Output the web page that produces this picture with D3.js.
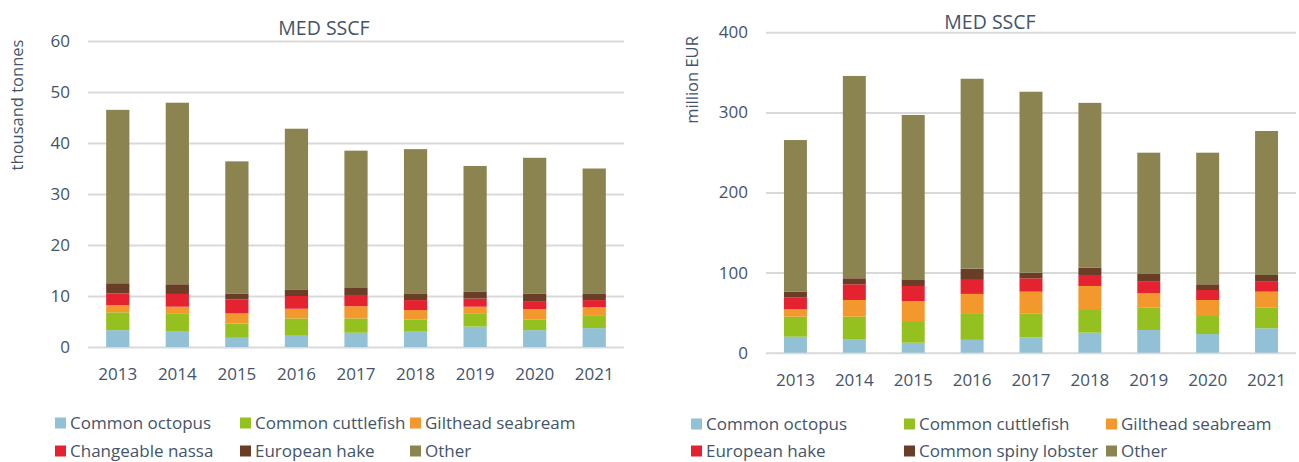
<!DOCTYPE html>
<html>
<head>
<meta charset="utf-8">
<script src="https://cdn.jsdelivr.net/npm/d3@7"></script>
<style>
  html, body { margin: 0; padding: 0; background: #ffffff; }
  svg { display: block; font-family: "Open Sans", sans-serif; }
</style>
</head>
<body>
<svg id="chart" width="1299" height="462"></svg>
<script>
// ---------- DATA ----------
const years = ["2013", "2014", "2015", "2016", "2017", "2018", "2019", "2020", "2021"];

// Left chart: landings weight (thousand tonnes)
const volSeriesNames = ["Common octopus", "Common cuttlefish", "Gilthead seabream", "Changeable nassa", "European hake", "Other"];
const volOctopus    = [3.3, 3.0, 1.8, 2.35, 2.8, 3.0, 4.0, 3.3, 3.7];
const volCuttlefish = [3.5, 3.5, 2.8, 3.25, 2.8, 2.4, 2.5, 2.1, 2.4];
const volSeabream   = [1.4, 1.4, 2.0, 1.9, 2.4, 1.85, 1.4, 2.05, 1.7];
const volNassa      = [2.3, 2.5, 2.75, 2.5, 2.2, 1.95, 1.6, 1.55, 1.4];
const volHake       = [2.0, 1.9, 1.15, 1.3, 1.5, 1.2, 1.3, 1.5, 1.2];
const volOther      = [34.0, 35.6, 25.9, 31.5, 26.8, 28.4, 24.7, 26.6, 24.6];
const volTicks      = [0, 10, 20, 30, 40, 50, 60];

// Right chart: landings value (million EUR)
const valSeriesNames = ["Common octopus", "Common cuttlefish", "Gilthead seabream", "European hake", "Common spiny lobster", "Other"];
const valOctopus    = [20, 17, 12.5, 16, 19.2, 25, 28.3, 23.3, 30.5];
const valCuttlefish = [25, 28, 27, 32.4, 30, 28.3, 28.4, 22.5, 26.2];
const valSeabream   = [9.2, 20.8, 25, 25, 27, 30, 17.5, 20, 19.5];
const valHake       = [14.5, 19.6, 18.8, 17.5, 16.7, 13.7, 14.4, 12.5, 12.4];
const valLobster    = [7.3, 7.5, 8.3, 14, 7, 9, 9.7, 7.1, 8.4];
const valOther      = [189.5, 252.6, 205.2, 237.1, 225.9, 205.9, 151.4, 164.3, 179.8];
const valTicks      = [0, 100, 200, 300, 400];

const seriesColors = ["#92c1d5", "#94c11f", "#f2982c", "#e5222f", "#6a3d26", "#8c8450"];

// ---------- DRAW ----------
const svg = d3.select("#chart");
const textColor = "#44546a";
const gridColor = "#d9d9d9";

function drawPanel(cfg) {
  const rows = cfg.years.map((yr, i) => {
    const o = { year: yr };
    cfg.names.forEach((n, k) => { o[n] = cfg.values[k][i]; });
    return o;
  });
  const stack = d3.stack().keys(cfg.names)(rows);

  const x = d3.scaleBand().domain(cfg.years).range([cfg.x0, cfg.x1])
    .paddingInner(0.61).paddingOuter(0.305);
  const y = d3.scaleLinear().domain([0, cfg.max]).range([cfg.y0, cfg.y1]);

  const g = svg.append("g");

  // gridlines + y tick labels
  const yAxis = g.append("g").attr("transform", `translate(${cfg.x0},0)`)
    .call(d3.axisLeft(y).tickValues(cfg.ticks).tickSize(-(cfg.x1 - cfg.x0)).tickPadding(18));
  yAxis.select(".domain").remove();
  yAxis.selectAll(".tick line").attr("stroke", gridColor).attr("stroke-width", 2);
  yAxis.selectAll(".tick text").attr("fill", textColor).attr("font-size", 17)
    .attr("font-family", "Open Sans");

  // bars
  g.append("g").selectAll("g").data(stack).join("g")
    .attr("fill", (d, i) => seriesColors[i])
    .selectAll("rect").data(d => d).join("rect")
    .attr("x", d => x(d.data.year))
    .attr("width", x.bandwidth())
    .attr("y", d => y(d[1]))
    .attr("height", d => y(d[0]) - y(d[1]));

  // x axis labels
  const xAxis = g.append("g").attr("transform", `translate(0,${cfg.y0})`)
    .call(d3.axisBottom(x).tickSize(0).tickPadding(0));
  xAxis.select(".domain").remove();
  xAxis.selectAll(".tick text").attr("fill", textColor).attr("font-size", 17)
    .attr("font-family", "Open Sans").attr("dy", 0).attr("y", cfg.xLabelBaseline - cfg.y0);

  // title
  g.append("text").attr("x", cfg.titleX).attr("y", cfg.titleY)
    .attr("text-anchor", "middle").attr("fill", textColor)
    .attr("font-size", 19.5).text(cfg.title);

  // y axis title
  g.append("text")
    .attr("transform", `translate(${cfg.yTitleX},${cfg.yTitleY}) rotate(-90)`)
    .attr("text-anchor", "middle").attr("fill", textColor)
    .attr("font-size", 16.5).text(cfg.yTitle);

  // legend
  const leg = g.append("g");
  cfg.names.forEach((n, k) => {
    const col = k % 3, row = Math.floor(k / 3);
    const lx = cfg.legendCols[col], ly = cfg.legendRows[row];
    leg.append("rect").attr("x", lx).attr("y", ly - 5.5).attr("width", 11).attr("height", 11)
      .attr("fill", seriesColors[k]);
    leg.append("text").attr("x", lx + 15).attr("y", ly).attr("dy", "0.35em")
      .attr("fill", textColor).attr("font-size", 17).text(n);
  });
}

drawPanel({
  years: years, names: volSeriesNames,
  values: [volOctopus, volCuttlefish, volSeabream, volNassa, volHake, volOther],
  max: 60, ticks: volTicks,
  x0: 88, x1: 624, y0: 347, y1: 41,
  xLabelBaseline: 380,
  title: "MED SSCF", titleX: 324, titleY: 35,
  yTitle: "thousand tonnes", yTitleX: 23, yTitleY: 105,
  legendCols: [55, 240, 410], legendRows: [423, 451]
});

drawPanel({
  years: years, names: valSeriesNames,
  values: [valOctopus, valCuttlefish, valSeabream, valHake, valLobster, valOther],
  max: 400, ticks: valTicks,
  x0: 766, x1: 1296, y0: 352.7, y1: 32.3,
  xLabelBaseline: 386,
  title: "MED SSCF", titleX: 990, titleY: 29,
  yTitle: "million EUR", yTitleX: 698, yTitleY: 80,
  legendCols: [691, 904, 1106], legendRows: [424, 451]
});
</script>
</body>
</html>
